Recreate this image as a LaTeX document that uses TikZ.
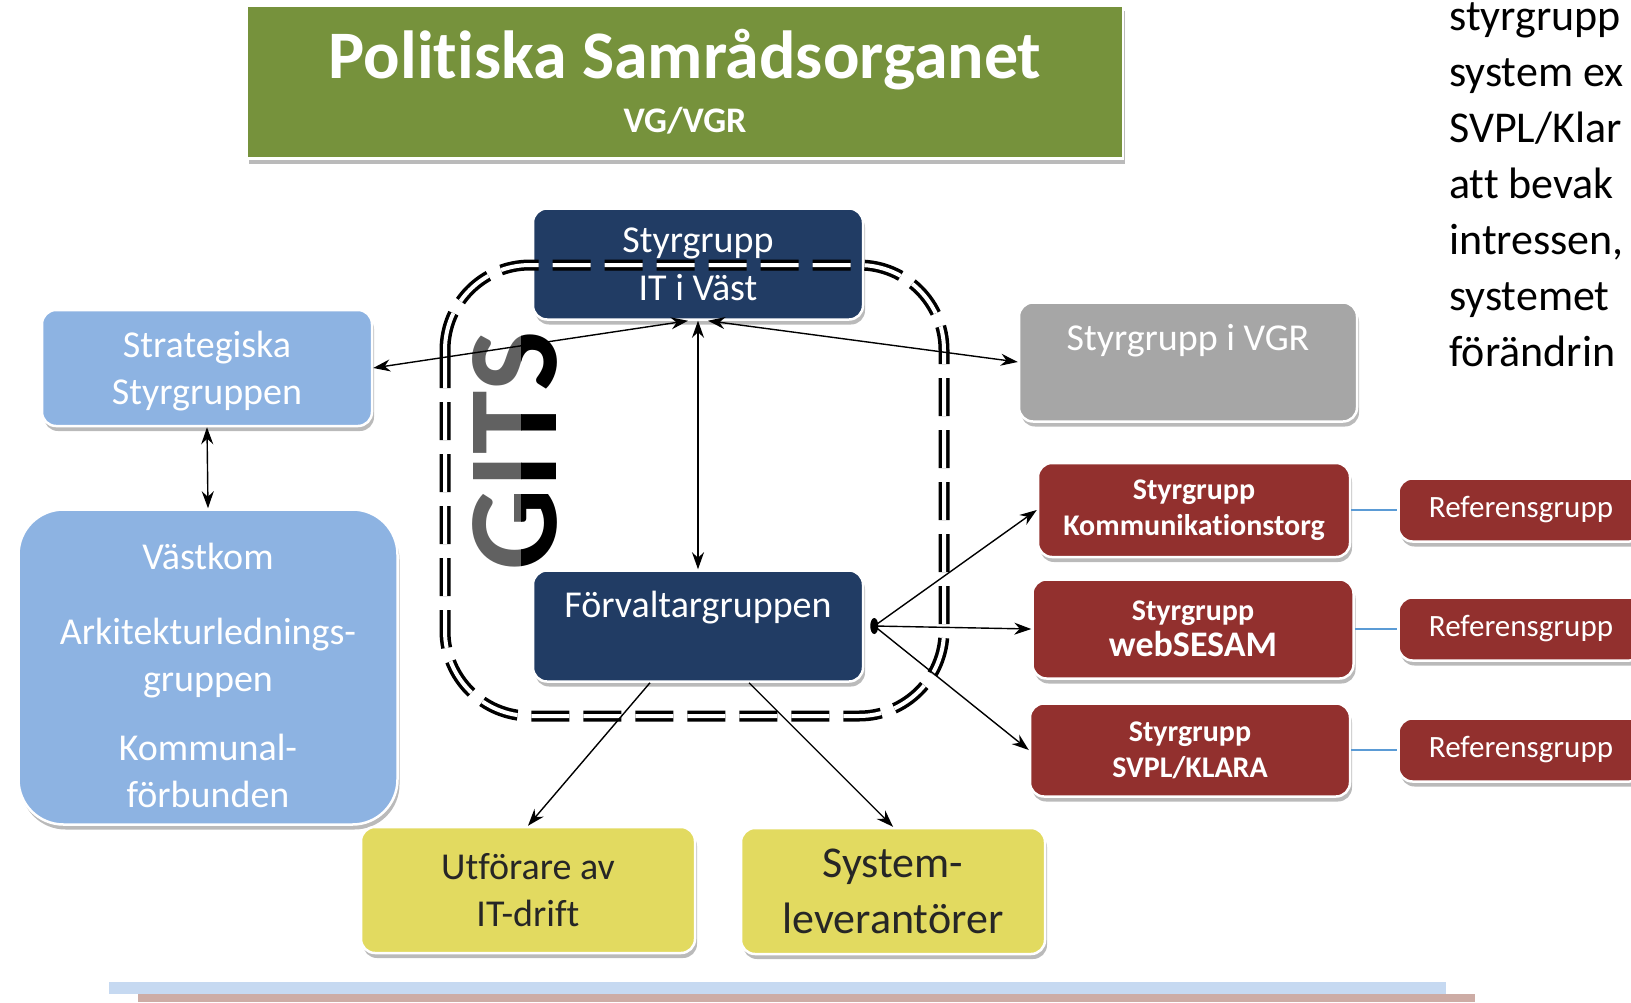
\documentclass[tikz,border=0pt]{standalone}
\usepackage{fontspec}
\setmainfont{Carlito}[Ligatures=CommonOff]
\usetikzlibrary{arrows.meta}
\usetikzlibrary{shadows}

\definecolor{psGreen}{RGB}{118,146,60}
\definecolor{gitsBlue}{RGB}{33,60,100}
\definecolor{kommBlue}{RGB}{141,179,226}
\definecolor{vgrGray}{RGB}{166,166,166}
\definecolor{sgRed}{RGB}{146,48,46}
\definecolor{levYellow}{RGB}{226,218,96}
\definecolor{refLine}{RGB}{91,155,213}
\definecolor{barBlue}{RGB}{198,217,241}
\definecolor{barRose}{RGB}{205,172,165}

\begin{document}
\begin{tikzpicture}[x=1pt,y=-1pt,
  >={Stealth[length=17pt,width=12pt]},semithick,
  box/.style={rectangle,rounded corners=14pt,draw=white,line width=2.5pt,align=center,inner sep=0pt,text=white,
    drop shadow={shadow xshift=2pt,shadow yshift=-5pt,opacity=.45,fill=black!60}},
  navy/.style={box,fill=gitsBlue,minimum width=330pt,minimum height=111pt,font=\fontsize{38}{48}\selectfont},
  sky/.style={box,fill=kommBlue,font=\fontsize{38}{47}\selectfont},
  wine/.style={box,fill=sgRed,font=\fontsize{30}{36}\selectfont\bfseries},
  refbox/.style={box,fill=sgRed,minimum width=245pt,minimum height=63pt,font=\fontsize{31}{36}\selectfont},
  lemon/.style={box,fill=levYellow,text=black!85,minimum height=126pt},
  link/.style={<->,line width=1.4pt},
  feed/.style={->,line width=1.4pt}]
      \tikzstyle{gitsletters}=[rotate=90,inner sep=0pt,font=\fontsize{128}{128}\selectfont\bfseries]

      \useasboundingbox (0,0) rectangle (1631,1002);

      % top level
      \node [box,rounded corners=0pt,fill=psGreen,minimum width=876pt,minimum height=153pt] (sam) at (685,82)
        {\fontsize{68}{72}\selectfont\bfseries Politiska Samrådsorganet\\[16pt]
         \fontsize{36}{44}\selectfont\bfseries VG/VGR};

      % left column
      \node [sky,minimum width=330pt,minimum height=116pt] (strat) at (207,368)
        {\rule{0pt}{33pt}Strategiska\\Styrgruppen};
      \node [sky,rounded corners=45pt,minimum width=379pt,minimum height=315pt] (vastkom) at (208,667)
        {\rule{0pt}{44pt}Västkom\\[28pt]Arkitekturlednings-\\gruppen\\[22pt]Kommunal-\\förbunden};

      % GITS
      \node [navy] (itvast) at (698,264) {Styrgrupp\\IT i Väst};
      \node [navy,text height=28pt,text depth=46pt] (forv) at (698,626) {Förvaltargruppen};
      \begin{scope}
        \clip (450,300) rectangle (521,600);
        \node [gitsletters,text=black!62] (gits) at (515,451) {GITS};
      \end{scope}
      \begin{scope}
        \clip (521,300) rectangle (600,600);
        \node [gitsletters,text=black] (gitsdark) at (515,451) {GITS};
      \end{scope}
      \draw [line width=3.5pt,double=white,double distance=4pt,dash pattern=on 38pt off 14pt,rounded corners=85pt]
        (445,265) rectangle (944,716);

      \node [box,fill=vgrGray,minimum width=338pt,minimum height=119pt,font=\fontsize{38}{47}\selectfont,
        text height=28pt,text depth=52pt] (vgr) at (1188,362) {Styrgrupp i VGR};

      % system groups
      \node [wine,minimum width=312pt,minimum height=94pt] (kom) at (1194,510) {Styrgrupp\\Kommunikationstorg};
      \node [wine,minimum width=321pt,minimum height=99pt] (sesam) at (1193,629)
        {Styrgrupp\\\fontsize{36}{38}\selectfont webSESAM};
      \node [wine,minimum width=320pt,minimum height=93pt] (svpl) at (1190,750) {Styrgrupp\\SVPL/KLARA};
      \node [refbox] (ref1) at (1521,510) {Referensgrupp};
      \node [refbox] (ref2) at (1521,629) {Referensgrupp};
      \node [refbox] (ref3) at (1521,750) {Referensgrupp};

      % suppliers
      \node [lemon,minimum width=334pt,font=\fontsize{38}{47}\selectfont] (utf) at (528,890) {Utförare av\\IT-drift};
      \node [lemon,minimum width=304pt,font=\fontsize{44}{56}\selectfont] (sys) at (893,891) {System-\\leverantörer};

      \node [anchor=north west,inner sep=0pt,align=left,font=\fontsize{44}{56}\selectfont] (note) at (1449,2)
        {styrgrupp\\system ex\\SVPL/Klar\\att bevak\\intressen,\\systemet\\förändrin};

      \fill [barBlue] (109,982) rectangle (1446,994);
      \fill [barRose] (138,994) rectangle (1475,1002);

      \coordinate (hub) at ([xshift=10pt]forv.east);

      \path
        ([xshift=-10pt]itvast.south) edge[link] (strat.east)
        ([xshift=10pt]itvast.south) edge[link] (vgr.west)
        (itvast.south) edge[link] (forv.north)
        (strat.south) edge[link] (vastkom.north)
        (hub) edge[feed] (kom.west)
        (hub) edge[feed] (sesam.west)
        (hub) edge[feed] (svpl.west)
        ([xshift=-48pt]forv.south) edge[feed] (utf.north)
        ([xshift=51pt]forv.south) edge[feed] (sys.north);
      \fill (hub) ellipse (4pt and 8pt);

      \path [refLine,line width=1.2pt]
        (kom) edge (ref1)
        (sesam) edge (ref2)
        (svpl) edge (ref3);

\end{tikzpicture}
\end{document}
